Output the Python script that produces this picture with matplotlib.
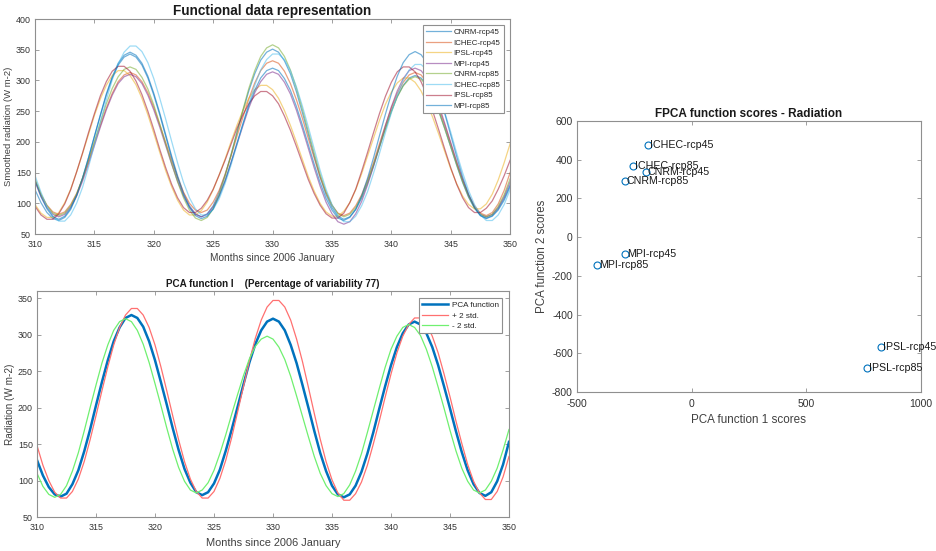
import numpy as np
import matplotlib
matplotlib.use("Agg")
import matplotlib.pyplot as plt

plt.rcParams['font.family'] = ['Liberation Sans', 'DejaVu Sans']
plt.rcParams['axes.unicode_minus'] = False

# ---------------- data ----------------
months = np.arange(310, 350.5, 0.5)   # half-month grid, 310 .. 350

model_names = ["CNRM-rcp45", "ICHEC-rcp45", "IPSL-rcp45", "MPI-rcp45",
               "CNRM-rcp85", "ICHEC-rcp85", "IPSL-rcp85", "MPI-rcp85"]

# smoothed radiation per model (W m-2)
cnrm_rcp45 = [122, 101, 85, 75,
              72, 77, 90, 112, 141, 174, 209, 244, 278, 306, 328, 341,
              346, 341, 328, 307, 279, 247, 212, 177, 145, 117, 96, 83,
              78, 83, 96, 118, 146, 179, 215, 250, 283, 311, 333, 346,
              351, 346, 332, 311, 282, 248, 213, 177, 143, 114, 93, 79,
              74, 78, 90, 108, 133, 161, 191, 221, 250, 274, 292, 304,
              308, 304, 293, 274, 250, 222, 192, 162, 134, 110, 92, 80,
              76, 80, 91, 108, 130]
ichec_rcp45 = [137, 114, 97, 86,
               82, 86, 98, 116, 140, 168, 198, 227, 255, 279, 298, 309,
               313, 309, 298, 280, 256, 228, 199, 170, 142, 118, 100, 89,
               85, 89, 102, 121, 147, 177, 209, 240, 270, 296, 316, 328,
               332, 328, 315, 295, 269, 239, 206, 174, 143, 117, 97, 84,
               80, 84, 96, 114, 138, 166, 197, 227, 255, 279, 297, 309,
               313, 309, 297, 279, 255, 227, 197, 166, 138, 114, 96, 84,
               80, 85, 99, 121, 150]
ipsl_rcp45 = [98, 84, 77, 77,
              85, 101, 123, 151, 181, 212, 243, 270, 292, 308, 316, 316,
              308, 293, 271, 244, 214, 183, 153, 127, 105, 89, 81, 81,
              88, 102, 122, 146, 172, 200, 227, 251, 271, 285, 292, 292,
              285, 271, 251, 227, 200, 172, 144, 120, 100, 86, 79, 79,
              87, 101, 122, 148, 177, 206, 235, 261, 281, 296, 304, 304,
              297, 283, 263, 239, 212, 184, 156, 132, 112, 98, 91, 91,
              99, 115, 138, 166, 197]
mpi_rcp45 = [135, 111, 93, 82,
             78, 82, 94, 112, 136, 164, 194, 224, 252, 276, 295, 306,
             310, 306, 295, 276, 252, 224, 194, 164, 136, 112, 94, 82,
             78, 82, 94, 113, 137, 166, 196, 226, 255, 280, 298, 310,
             314, 310, 297, 278, 252, 222, 190, 158, 128, 102, 83, 70,
             66, 70, 83, 103, 130, 160, 193, 226, 257, 283, 303, 316,
             320, 316, 304, 285, 260, 230, 199, 168, 139, 113, 94, 82,
             78, 82, 93, 111, 135]
cnrm_rcp85 = [140, 115, 96, 84,
              80, 84, 96, 115, 141, 170, 201, 232, 262, 287, 306, 318,
              322, 318, 305, 286, 260, 229, 197, 165, 135, 109, 89, 76,
              72, 77, 91, 114, 144, 178, 215, 252, 287, 316, 339, 353,
              358, 353, 339, 317, 288, 254, 218, 182, 148, 119, 97, 83,
              78, 82, 93, 111, 135, 163, 192, 221, 249, 273, 291, 302,
              306, 302, 291, 273, 249, 221, 192, 163, 135, 111, 93, 82,
              78, 82, 95, 114, 140]
ichec_rcp85 = [145, 118, 95, 79,
               71, 71, 81, 100, 126, 159, 195, 232, 268, 301, 327, 346,
               356, 356, 347, 329, 303, 271, 237, 201, 166, 134, 109, 91,
               81, 81, 90, 107, 132, 162, 195, 229, 262, 292, 317, 334,
               343, 343, 334, 316, 290, 259, 225, 189, 154, 123, 98, 80,
               70, 70, 79, 96, 119, 149, 181, 215, 247, 276, 300, 317,
               326, 326, 317, 301, 277, 248, 216, 182, 150, 121, 98, 81,
               72, 72, 81, 98, 122]
ipsl_rcp85 = [95, 81, 74, 74,
              83, 99, 122, 151, 182, 215, 246, 275, 298, 315, 323, 323,
              315, 299, 277, 250, 220, 188, 158, 131, 109, 93, 85, 85,
              92, 105, 123, 146, 170, 196, 222, 244, 262, 275, 282, 282,
              275, 262, 242, 219, 193, 166, 139, 116, 97, 83, 76, 76,
              84, 101, 123, 152, 183, 215, 246, 274, 297, 314, 322, 322,
              314, 298, 276, 249, 219, 188, 158, 131, 109, 93, 85, 85,
              92, 104, 123, 145, 170]
mpi_rcp85 = [137, 111, 91, 78,
             74, 79, 92, 113, 141, 174, 209, 243, 276, 304, 325, 338,
             343, 338, 325, 304, 276, 244, 209, 174, 142, 114, 93, 80,
             75, 79, 91, 111, 136, 166, 198, 229, 259, 284, 304, 316,
             320, 316, 303, 284, 258, 228, 196, 164, 134, 108, 89, 76,
             72, 77, 90, 112, 141, 174, 210, 245, 278, 307, 329, 342,
             347, 342, 329, 307, 279, 246, 211, 176, 143, 115, 93, 80,
             75, 79, 89, 105, 127]

# first functional principal component: mean and +/- 2 std
pca_mean = [128, 107, 91, 81,
            78, 82, 95, 114, 140, 170, 203, 235, 265, 291, 310, 323,
            327, 323, 311, 291, 265, 235, 204, 172, 142, 116, 97, 84,
            80, 84, 96, 115, 141, 170, 201, 232, 262, 287, 306, 318,
            322, 318, 306, 286, 261, 231, 200, 168, 138, 113, 93, 81,
            77, 81, 93, 112, 137, 166, 198, 229, 258, 283, 302, 314,
            318, 314, 302, 283, 258, 229, 199, 168, 139, 114, 95, 83,
            79, 84, 99, 122, 153]
pca_plus = [148, 121, 100, 84,
            76, 76, 85, 102, 126, 156, 189, 223, 256, 286, 310, 327,
            336, 336, 327, 310, 286, 256, 223, 189, 156, 126, 102, 85,
            76, 76, 85, 103, 128, 159, 194, 229, 264, 295, 320, 338,
            347, 347, 338, 320, 294, 263, 228, 192, 157, 126, 101, 83,
            73, 73, 82, 98, 121, 150, 181, 214, 246, 275, 298, 314,
            323, 323, 315, 298, 275, 246, 215, 182, 151, 122, 99, 83,
            74, 74, 85, 105, 133]
pca_minus = [110, 92, 81, 77,
             81, 93, 113, 138, 168, 200, 231, 261, 286, 306, 318, 322,
             318, 306, 287, 262, 233, 203, 172, 143, 118, 99, 87, 83,
             87, 97, 114, 137, 163, 191, 218, 244, 267, 284, 294, 298,
             294, 283, 266, 243, 216, 188, 160, 133, 110, 93, 82, 78,
             82, 94, 113, 137, 166, 196, 226, 255, 280, 298, 310, 314,
             310, 299, 280, 256, 228, 199, 169, 141, 117, 99, 87, 83,
             87, 99, 117, 142, 170]

score_names = ["ICHEC-rcp45", "ICHEC-rcp85", "CNRM-rcp45", "CNRM-rcp85",
               "MPI-rcp45", "MPI-rcp85", "IPSL-rcp45", "IPSL-rcp85"]
score_pc1 = [-190, -255, -200, -292, -289, -411, 825, 766]
score_pc2 = [475, 368, 335, 292, -89, -146, -566, -678]

# ---------------- styling ----------------
matlab_colors = ["#0072BD", "#D95319", "#EDB120", "#7E2F8E",
                 "#77AC30", "#4DBEEE", "#A2142F", "#0072BD"]
spine_color = "#8f8f8f"
tick_color = "#333333"
label_color = "#404040"


def style_axes(ax, fs, xpad=4, ypad=3):
    for s in ax.spines.values():
        s.set_color(spine_color)
        s.set_linewidth(0.8)
    ax.tick_params(direction="in", top=True, right=True, length=3,
                   width=0.6, color=spine_color, labelcolor=tick_color,
                   labelsize=fs)
    ax.tick_params(axis="x", pad=xpad)
    ax.tick_params(axis="y", pad=ypad)


def style_legend(leg):
    leg.get_frame().set_linewidth(0.8)
    for t in leg.get_texts():
        t.set_color("#262626")


fig = plt.figure(figsize=(9.37, 5.51), dpi=100)

# ---- smoothed curves ----
ax1 = fig.add_axes([0.0374, 0.5753, 0.507, 0.3902])
series = [cnrm_rcp45, ichec_rcp45, ipsl_rcp45, mpi_rcp45,
          cnrm_rcp85, ichec_rcp85, ipsl_rcp85, mpi_rcp85]
for name, vals, col in zip(model_names, series, matlab_colors):
    ax1.plot(months, vals, color=col, lw=0.9, alpha=0.55, label=name)
ax1.set_xlim(310, 350)
ax1.set_ylim(50, 400)
ax1.set_xticks(np.arange(310, 351, 5))
ax1.set_yticks(np.arange(50, 401, 50))
style_axes(ax1, 6.4, xpad=4, ypad=3)
ax1.set_xlabel("Months since 2006 January", fontsize=7.3, color=label_color, labelpad=3)
ax1.set_ylabel("Smoothed radiation (W m-2)", fontsize=6.8, color=label_color, labelpad=2)
ax1.set_title("Functional data representation", fontsize=9.8, fontweight="bold",
              color="#1a1a1a", pad=3)
leg1 = ax1.legend(loc="upper right", fontsize=5.7, frameon=True, fancybox=False,
                  edgecolor=spine_color, framealpha=1, borderpad=0.4,
                  labelspacing=0.38, handlelength=3.2, handletextpad=0.3,
                  borderaxespad=0.8)
style_legend(leg1)

# ---- PCA function ----
ax2 = fig.add_axes([0.0395, 0.0617, 0.5037, 0.4102])
ax2.plot(months, pca_mean, color="#0072BD", lw=1.8, label="PCA function")
ax2.plot(months, pca_plus, color="#ff7070", lw=0.9, label="+ 2 std.")
ax2.plot(months, pca_minus, color="#70f070", lw=0.9, label="- 2 std.")
ax2.set_xlim(310, 350)
ax2.set_ylim(50, 360)
ax2.set_xticks(np.arange(310, 351, 5))
ax2.set_yticks(np.arange(50, 351, 50))
style_axes(ax2, 6.4, xpad=4.5, ypad=3)
ax2.set_xlabel("Months since 2006 January", fontsize=7.9, color=label_color, labelpad=4)
ax2.set_ylabel("Radiation (W m-2)", fontsize=7.2, color=label_color, labelpad=2)
ax2.set_title("PCA function I    (Percentage of variability 77)", fontsize=7.1,
              fontweight="bold", color="#1a1a1a", pad=3)
leg2 = ax2.legend(loc="upper right", fontsize=5.9, frameon=True, fancybox=False,
                  edgecolor=spine_color, framealpha=1, borderpad=0.4,
                  labelspacing=0.35, handlelength=3.2, handletextpad=0.4,
                  borderaxespad=0.85)
style_legend(leg2)

# ---- FPCA scores ----
ax3 = fig.add_axes([0.6158, 0.2886, 0.3671, 0.4918])
ax3.plot(score_pc1, score_pc2, linestyle="none", marker="o", markersize=5,
         markerfacecolor="none", markeredgecolor="#0072BD", markeredgewidth=0.8)
for name, x, y in zip(score_names, score_pc1, score_pc2):
    ax3.annotate(name, (x, y), xytext=(1.5, 0), textcoords="offset points",
                 ha="left", va="center", fontsize=7.7, color="#1a1a1a")
ax3.set_xlim(-500, 1000)
ax3.set_ylim(-800, 600)
ax3.set_xticks([-500, 0, 500, 1000])
ax3.set_yticks(np.arange(-800, 601, 200))
style_axes(ax3, 7.5, xpad=5, ypad=3)
ax3.set_xlabel("PCA function 1 scores", fontsize=8.4, color=label_color, labelpad=4)
ax3.set_ylabel("PCA function 2 scores", fontsize=8.3, color=label_color, labelpad=3)
ax3.set_title("FPCA function scores - Radiation", fontsize=8.5, fontweight="bold",
              color="#1a1a1a", pad=3)

fig.savefig("out.png", dpi=100)
